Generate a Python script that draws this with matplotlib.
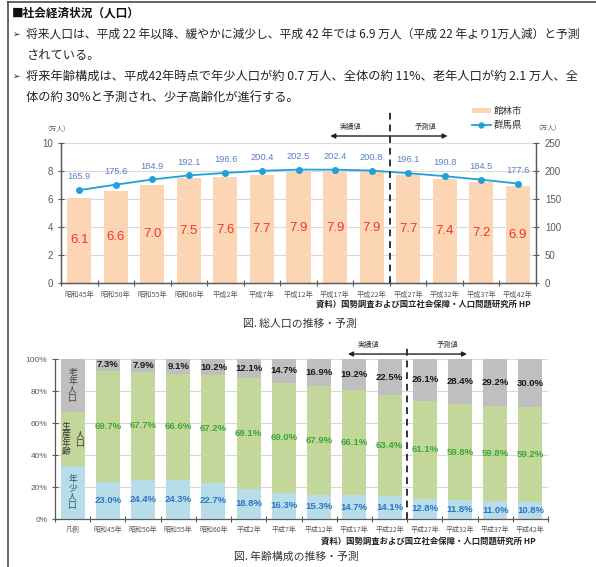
import matplotlib
matplotlib.use('Agg')
import matplotlib.pyplot as plt
from matplotlib.patches import Patch
from matplotlib.lines import Line2D
import numpy as np

plt.rcParams['font.family'] = ['Noto Sans CJK JP', 'DejaVu Sans']

# ---------------- data ----------------
years = ['昭和45年', '昭和50年', '昭和55年', '昭和60年', '平成2年', '平成7年', '平成12年',
         '平成17年', '平成22年', '平成27年', '平成32年', '平成37年', '平成42年']
tatebayashi = [6.1, 6.6, 7.0, 7.5, 7.6, 7.7, 7.9, 7.9, 7.9, 7.7, 7.4, 7.2, 6.9]      # 万人
gunma = [165.9, 175.6, 184.9, 192.1, 196.6, 200.4, 202.5, 202.4, 200.8, 196.1, 190.8, 184.5, 177.6]  # 万人

legend_label = '凡例'
legend_shares = [33.3, 33.4, 33.3]   # young, working, elderly (legend bar)
young = [23.0, 24.4, 24.3, 22.7, 18.8, 16.3, 15.3, 14.7, 14.1, 12.8, 11.8, 11.0, 10.8]
working = [69.7, 67.7, 66.6, 67.2, 69.1, 69.0, 67.9, 66.1, 63.4, 61.1, 59.8, 59.8, 59.2]
elderly = [7.3, 7.9, 9.1, 10.2, 12.1, 14.7, 16.9, 19.2, 22.5, 26.1, 28.4, 29.2, 30.0]

title = '■社会経済状況（人口）'
lines = [
    ('➢', '将来人口は、平成 22 年以降、緩やかに減少し、平成 42 年では 6.9 万人（平成 22 年より1万人減）と予測', 8.5),
    ('', 'されている。', 8.8),
    ('➢', '将来年齢構成は、平成42年時点で年少人口が約 0.7 万人、全体の約 11%、老年人口が約 2.1 万人、全', 8.8),
    ('', '体の約 30%と予測され、少子高齢化が進行する。', 8.8),
]
source = '資料）国勢調査および国立社会保障・人口問題研究所 HP'

# ---------------- styles ----------------
W, H = 596, 567
NUM = ['Liberation Sans', 'Noto Sans CJK JP']
BAR_C = '#fcd5b4'
LINE_C = '#22a0da'
GRID_C = '#d9d9d9'
AX_C = '#595959'
C_OLD, C_WORK, C_YOUNG = '#bfbfbf', '#c4d79b', '#b7dee8'

def fx(px):
    return px / W

def fy(py):
    return 1 - py / H

fig = plt.figure(figsize=(W / 100, H / 100), dpi=100)
fig.patch.set_facecolor('white')

# page border
fig.add_artist(Line2D([fx(8), fx(8)], [fy(1.5), 0], color='#3a3a3a', lw=1.1))
fig.add_artist(Line2D([fx(8), 1], [fy(1.5), fy(1.5)], color='#3a3a3a', lw=1.1))

# header text
fig.text(fx(12), fy(13), title, fontsize=8.4, fontweight='bold', va='center', ha='left', color='#111')
ys = [34, 55, 76, 97]
for (mark, txt, fs), y in zip(lines, ys):
    if mark:
        fig.text(fx(13), fy(y), mark, fontsize=6.5, va='center', ha='left', color='#222',
                 family=['DejaVu Sans'])
    fig.text(fx(26), fy(y), txt, fontsize=fs, va='center', ha='left', color='#222')

# ================= Chart 1 =================
ax1 = fig.add_axes([fx(61), fy(283), (536 - 61) / W, (283 - 143) / H])
x = np.arange(len(years))
ax1.bar(x, tatebayashi, width=0.66, color=BAR_C, zorder=2)
ax1.set_xlim(-0.5, len(years) - 0.5)
ax1.set_ylim(0, 10)
ax1.set_yticks(np.arange(0, 11, 2))
ax1.yaxis.grid(True, color=GRID_C, lw=0.8)
ax1.set_axisbelow(True)
ax1.spines['top'].set_visible(False)
for s in ['left', 'right', 'bottom']:
    ax1.spines[s].set_color(AX_C)
    ax1.spines[s].set_linewidth(0.9)
ax1.set_xticks(x)
ax1.set_xticklabels(years, fontsize=5.2, color='#595959')
ax1.set_xticks(np.arange(-0.5, len(years), 1), minor=True)
ax1.tick_params(axis='x', which='major', length=0, pad=6)
ax1.tick_params(axis='x', which='minor', length=5, direction='inout', color=AX_C, width=0.8)
ax1.tick_params(axis='y', length=5, direction='inout', color=AX_C, width=0.8, pad=3,
                labelsize=7, labelcolor='#595959')
for lab in ax1.get_yticklabels():
    lab.set_family(NUM)
for i, v in enumerate(tatebayashi):
    ax1.text(i, v / 2, f'{v:.1f}', ha='center', va='center', fontsize=9.5, color='#e8392c',
             family=NUM)

ax2 = ax1.twinx()
ax2.set_ylim(0, 250)
ax2.set_yticks(np.arange(0, 251, 50))
ax2.plot(x, gunma, color=LINE_C, lw=1.3, marker='o', ms=4, zorder=5)
for s in ['top']:
    ax2.spines[s].set_visible(False)
for s in ['left', 'right', 'bottom']:
    ax2.spines[s].set_color(AX_C)
    ax2.spines[s].set_linewidth(0.9)
ax2.tick_params(axis='y', length=5, direction='inout', color=AX_C, width=0.8, pad=4,
                labelsize=7, labelcolor='#595959')
for lab in ax2.get_yticklabels():
    lab.set_family(NUM)
for i, v in enumerate(gunma):
    ax2.annotate(f'{v:.1f}', (i, v), xytext=(0, 9.5), textcoords='offset points',
                 ha='center', va='center', fontsize=6.7, color='#5a7ec2', family=NUM)

# divider and arrows
xt2 = ax2.get_xaxis_transform()
ax2.plot([8.5, 8.5], [0, 1.236], transform=xt2, ls=(0, (3.5, 2.5)), color='#333', lw=1.4,
         clip_on=False, zorder=6)
for x_end in (6.87, 10.08):
    ax2.annotate('', xy=(x_end, 1.05), xytext=(8.5, 1.05), xycoords=xt2, textcoords=xt2,
                 arrowprops=dict(arrowstyle='-|>', color='#222', lw=1.0, mutation_scale=7,
                                 shrinkA=0, shrinkB=0), annotation_clip=False)
ax2.text(7.42, 1.114, '実績値', transform=xt2, fontsize=5.2, ha='center', va='center', color='#333')
ax2.text(9.47, 1.114, '予測値', transform=xt2, fontsize=5.2, ha='center', va='center', color='#333')

fig.text(fx(57), fy(129), '（万人）', fontsize=4.8, ha='center', va='center', color='#595959')
fig.text(fx(548), fy(128), '（万人）', fontsize=4.8, ha='center', va='center', color='#595959')

fig.legend(handles=[Patch(facecolor=BAR_C, edgecolor='none'),
                    Line2D([], [], color=LINE_C, lw=1.3, marker='o', ms=3.5)],
           labels=['館林市', '群馬県'], loc='upper left', bbox_to_anchor=(fx(472), fy(107)),
           frameon=False, fontsize=6.8, handlelength=2.0, handleheight=0.45,
           labelspacing=0.5, handletextpad=0.3, borderaxespad=0, borderpad=0,
           labelcolor='#333')

fig.text(fx(531), fy(304), source, fontsize=6.0, fontweight='bold', ha='right', va='center', color='#222')
fig.text(fx(300), fy(324), '図. 総人口の推移・予測', fontsize=7.8, ha='center', va='center', color='#333')

# ================= Chart 2 =================
ax3 = fig.add_axes([fx(55), fy(519), (548 - 55) / W, (519 - 359) / H])
cats = [legend_label] + years
xc = np.arange(len(cats))
y_vals = [legend_shares[0]] + young
w_vals = [legend_shares[1]] + working
e_vals = [legend_shares[2]] + elderly
bw = 0.68
ax3.bar(xc, y_vals, width=bw, color=C_YOUNG, zorder=2)
ax3.bar(xc, w_vals, bottom=y_vals, width=bw, color=C_WORK, zorder=2)
bot2 = [a + b for a, b in zip(y_vals, w_vals)]
ax3.bar(xc, e_vals, bottom=bot2, width=bw, color=C_OLD, zorder=2)
ax3.set_xlim(-0.5, len(cats) - 0.5)
ax3.set_ylim(0, 100)
ax3.set_yticks(np.arange(0, 101, 20))
ax3.set_yticklabels([f'{v}%' for v in range(0, 101, 20)])
ax3.yaxis.grid(True, color=GRID_C, lw=0.8)
ax3.set_axisbelow(True)
for s in ['top', 'right']:
    ax3.spines[s].set_visible(False)
for s in ['left', 'bottom']:
    ax3.spines[s].set_color(AX_C)
    ax3.spines[s].set_linewidth(0.9)
ax3.set_xticks(xc)
ax3.set_xticklabels(cats, fontsize=5.0, color='#595959')
ax3.set_xticks(np.arange(-0.5, len(cats), 1), minor=True)
ax3.tick_params(axis='x', which='major', length=0, pad=5)
ax3.tick_params(axis='x', which='minor', length=5, direction='inout', color=AX_C, width=0.8)
ax3.tick_params(axis='y', length=5, direction='inout', color=AX_C, width=0.8, pad=3,
                labelsize=6, labelcolor='#595959')
for lab in ax3.get_yticklabels():
    lab.set_family(NUM)

for i in range(1, len(cats)):
    yv, wv, ev = y_vals[i], w_vals[i], e_vals[i]
    ax3.text(i, yv / 2, f'{yv:.1f}%', ha='center', va='center', fontsize=6.8, fontweight='bold',
             color='#2e74c6', family=NUM, zorder=4)
    ax3.text(i, yv + wv / 2, f'{wv:.1f}%', ha='center', va='center', fontsize=6.8, fontweight='bold',
             color='#3aa63a', family=NUM, zorder=4)
    ax3.text(i, min(100, yv + wv + ev) - ev / 2, f'{ev:.1f}%', ha='center', va='center', fontsize=6.8,
             fontweight='bold', color='#1a1a1a', family=NUM, zorder=4)

# legend bar texts (vertical)
def vtext(xp, yp, s, color):
    ax3.text(xp, yp, '\n'.join(s), ha='center', va='center', fontsize=6.3, color=color,
             linespacing=0.95, zorder=4)

vtext(0.0, legend_shares[0] + legend_shares[1] + legend_shares[2] / 2, '老年人口', '#404040')
vtext(-0.2, legend_shares[0] + legend_shares[1] / 2, '生産年齢', '#333333')
vtext(0.22, legend_shares[0] + legend_shares[1] / 2, '人口', '#333333')
vtext(0.0, legend_shares[0] / 2, '年少人口', '#2f4f7a')

xt3 = ax3.get_xaxis_transform()
ax3.plot([9.5, 9.5], [0, 1.09], transform=xt3, ls=(0, (3.5, 2.5)), color='#333', lw=1.4,
         clip_on=False, zorder=6)
for x_end in (7.82, 11.2):
    ax3.annotate('', xy=(x_end, 1.031), xytext=(9.5, 1.031), xycoords=xt3, textcoords=xt3,
                 arrowprops=dict(arrowstyle='-|>', color='#222', lw=1.0, mutation_scale=7,
                                 shrinkA=0, shrinkB=0), annotation_clip=False)
ax3.text(8.39, 1.09, '実績値', transform=xt3, fontsize=5.2, ha='center', va='center', color='#333')
ax3.text(10.64, 1.09, '予測値', transform=xt3, fontsize=5.2, ha='center', va='center', color='#333')

fig.text(fx(536), fy(541), source, fontsize=6.0, fontweight='bold', ha='right', va='center', color='#222')
fig.text(fx(296), fy(557), '図. 年齢構成の推移・予測', fontsize=7.8, ha='center', va='center', color='#333')

fig.savefig('out.png', dpi=100, facecolor='white')
